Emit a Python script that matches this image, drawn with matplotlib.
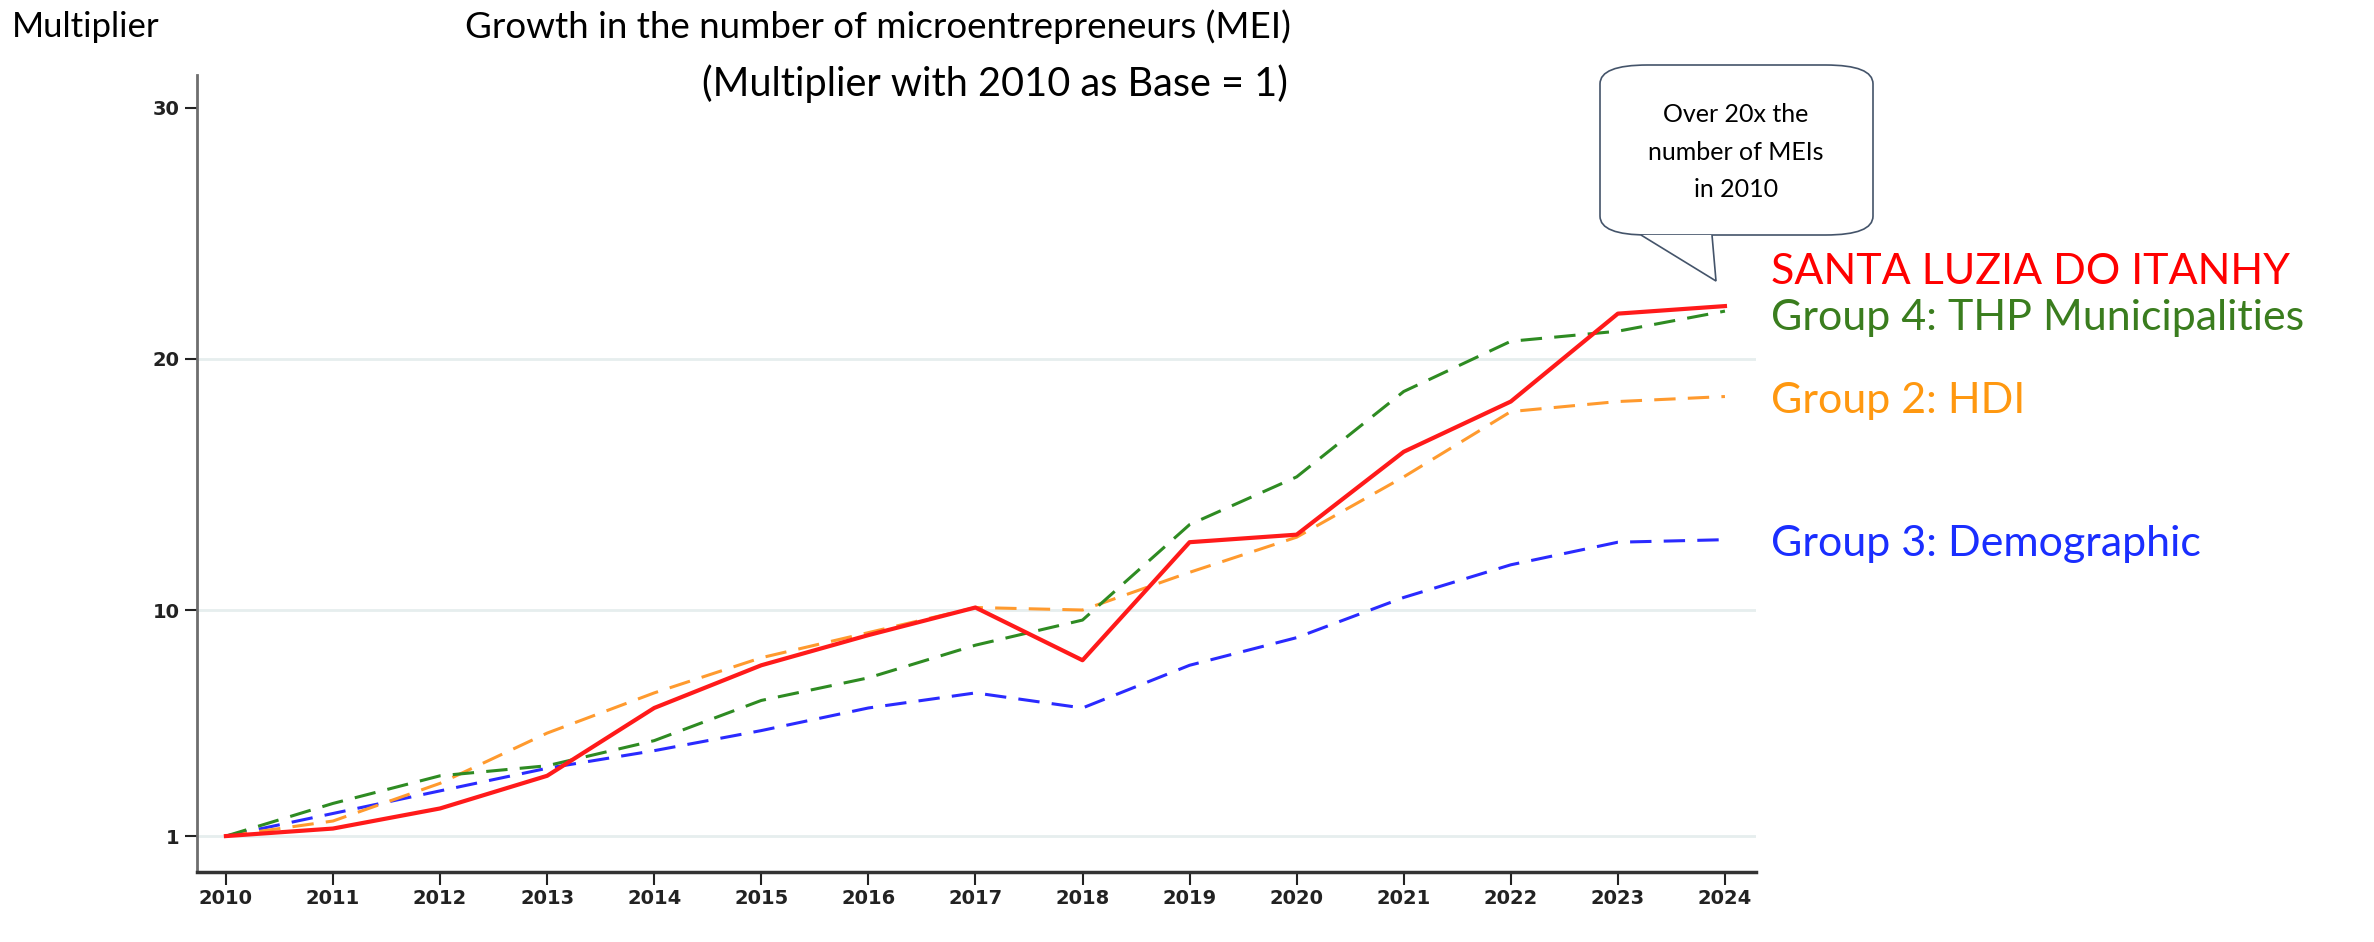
import matplotlib.pyplot as plt
from matplotlib.patches import FancyBboxPatch, Polygon

# ---------------------------------------------------------------------------
# Data (multiplier, 2010 = 1)
# ---------------------------------------------------------------------------
years = list(range(2010, 2025))

santa_luzia = [1.0, 1.3, 2.1, 3.4, 6.1, 7.8, 9.0, 10.1, 8.0, 12.7, 13.0, 16.3, 18.3, 21.8, 22.1]
group4_thp = [1.0, 2.3, 3.4, 3.8, 4.8, 6.4, 7.3, 8.6, 9.6, 13.4, 15.3, 18.7, 20.7, 21.1, 21.9]
group2_hdi = [1.0, 1.6, 3.1, 5.1, 6.7, 8.1, 9.1, 10.1, 10.0, 11.5, 12.9, 15.3, 17.9, 18.3, 18.5]
group3_demo = [1.0, 1.9, 2.8, 3.7, 4.4, 5.2, 6.1, 6.7, 6.1, 7.8, 8.9, 10.5, 11.8, 12.7, 12.8]

y_ticks = [1, 10, 20, 30]

series_labels = ['SANTA LUZIA DO ITANHY', 'Group 4: THP Municipalities',
                 'Group 2: HDI', 'Group 3: Demographic']

TEXT_FONT = ['Lato', 'DejaVu Sans']

W, H = 2374, 942
fig = plt.figure(figsize=(W / 100, H / 100), dpi=100)
ax = fig.add_axes([197 / W, 1 - 872 / H, (1756 - 197) / W, (872 - 75) / H])

# gridlines
for t in y_ticks[:3]:
    ax.axhline(t, color='#e6eeee', linewidth=2, zorder=0)

dash = (0, (7, 4))
ax.plot(years, group3_demo, color='#2a2aff', linestyle=dash, linewidth=2.2)
ax.plot(years, group2_hdi, color='#ff9a2e', linestyle=dash, linewidth=2.2)
ax.plot(years, group4_thp, color='#2e8b22', linestyle=dash, linewidth=2.2)
ax.plot(years, santa_luzia, color='#ff1a1a', linewidth=3)

ax.set_xlim(2009.73, 2024.29)
ax.set_ylim(-0.43, 31.3)
ax.set_xticks(years)
ax.set_yticks(y_ticks)
ax.tick_params(axis='both', labelsize=14, width=1.5, length=9, colors='#222222')
for lbl in ax.get_xticklabels() + ax.get_yticklabels():
    lbl.set_fontweight('bold')
ax.spines['top'].set_visible(False)
ax.spines['right'].set_visible(False)
ax.spines['left'].set_linewidth(2)
ax.spines['left'].set_color('#6e6e6e')
ax.spines['bottom'].set_linewidth(2.5)
ax.spines['bottom'].set_color('#333333')

# series labels on the right
label_colors = ['#ff0000', '#3a7d1e', '#ff9810', '#1a2eff']
label_y = [272, 318, 401, 544]
for txt, col, yy in zip(series_labels, label_colors, label_y):
    fig.text(1771 / W, 1 - yy / H, txt, color=col, fontsize=31,
             family=TEXT_FONT, ha='left', va='center')

# titles
fig.text(12 / W, 1 - 27 / H, 'Multiplier', fontsize=25, family=TEXT_FONT,
         ha='left', va='center')
fig.text(1291 / W, 1 - 27 / H, 'Growth in the number of microentrepreneurs (MEI)',
         fontsize=26.5, family=TEXT_FONT, ha='right', va='center')
fig.text(1288 / W, 1 - 84 / H, '(Multiplier with 2010 as Base = 1)',
         fontsize=28.5, family=TEXT_FONT, ha='right', va='center')

# callout bubble
bx0, bx1, by0, by1 = 1600, 1873, 65, 235
box = FancyBboxPatch((bx0 / W, 1 - by1 / H), (bx1 - bx0) / W, (by1 - by0) / H,
                     boxstyle='round,pad=0,rounding_size=0.02',
                     transform=fig.transFigure, facecolor='white',
                     edgecolor='#44546a', linewidth=1.2)
fig.patches.append(box)
tail = Polygon([(1641 / W, 1 - by1 / H), (1716 / W, 1 - 281 / H), (1712 / W, 1 - by1 / H)],
               closed=False, transform=fig.transFigure, facecolor='white',
               edgecolor='#44546a', linewidth=1.2)
fig.patches.append(tail)
fig.text(1736 / W, 1 - 152 / H, 'Over 20x the\nnumber of MEIs\nin 2010', fontsize=18,
         family=TEXT_FONT, ha='center', va='center', linespacing=1.75)

fig.savefig('out.png', dpi=100, facecolor='white')
